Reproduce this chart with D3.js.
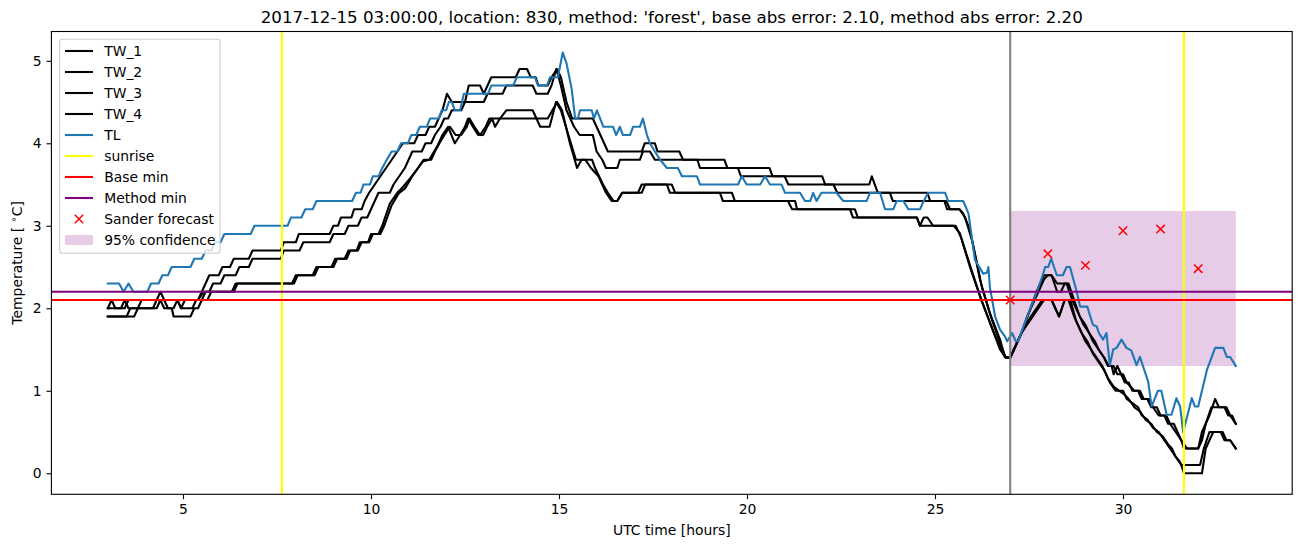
<!DOCTYPE html>
<html>
<head>
<meta charset="utf-8">
<script src="https://cdn.jsdelivr.net/npm/d3@7"></script>
<style>
  html, body { margin: 0; padding: 0; background: #fff; }
  svg { display: block; font-family: "DejaVu Sans", sans-serif; }
</style>
</head>
<body>
<svg id="chart" width="1302" height="547"></svg>
<script>
// ---- data (hour, temperature) ----
const TW_1 = [[3.0,2.0],[3.1,2.1],[3.2,2.0],[3.45,2.0],[3.55,2.1],[4.85,2.1],[4.95,2.0],[5.05,2.1],[5.4,2.1],[5.5,2.2],[5.6,2.3],[5.7,2.4],[5.95,2.4],[6.05,2.5],[6.25,2.5],[6.35,2.6],[6.75,2.6],[6.85,2.7],[7.6,2.7],[7.68,2.8],[8.0,2.8],[8.08,2.9],[8.9,2.9],[9.0,3.0],[9.12,3.0],[9.2,3.1],[9.48,3.1],[9.55,3.2],[9.75,3.2],[9.83,3.3],[9.95,3.4],[10.1,3.5],[10.25,3.6],[10.4,3.7],[10.55,3.8],[10.7,3.9],[10.85,4.0],[11.15,4.0],[11.25,4.1],[11.45,4.1],[11.55,4.2],[11.7,4.2],[11.8,4.3],[11.9,4.4],[12.02,4.6],[12.15,4.5],[12.5,4.5],[12.6,4.7],[12.9,4.7],[13.0,4.6],[13.1,4.7],[13.2,4.8],[13.85,4.8],[13.95,4.9],[14.15,4.9],[14.25,4.8],[14.38,4.8],[14.45,4.7],[14.7,4.7],[14.8,4.8],[14.95,4.9],[15.05,4.8],[15.2,4.5],[15.35,4.3],[15.9,4.3],[16.0,4.2],[16.1,4.1],[16.2,4.0],[16.3,3.9],[17.2,3.9],[17.28,4.0],[17.55,4.0],[17.62,3.9],[18.2,3.9],[18.3,3.8],[19.4,3.8],[19.48,3.7],[20.6,3.7],[20.68,3.6],[22.0,3.6],[22.08,3.5],[23.25,3.5],[23.32,3.6],[23.4,3.5],[23.48,3.4],[24.8,3.4],[24.87,3.3],[25.25,3.3],[25.32,3.2],[25.65,3.2],[25.75,3.15],[25.93,2.95],[26.2,2.34],[26.46,1.94],[26.73,1.62],[26.86,1.41],[27.0,1.4],[27.2,1.6],[27.35,1.75],[27.5,1.95],[27.7,2.2],[27.9,2.4],[28.1,2.4],[28.25,2.2],[28.35,2.2],[28.45,2.3],[28.55,2.3],[28.7,2.1],[28.85,1.9],[29.0,1.8],[29.1,1.7],[29.25,1.6],[29.35,1.5],[29.5,1.4],[29.6,1.3],[29.7,1.3],[29.75,1.2],[29.85,1.3],[29.95,1.2],[30.05,1.1],[30.15,1.1],[30.25,1.0],[30.4,1.0],[30.5,0.9],[30.65,0.9],[30.75,0.8],[30.9,0.8],[31.0,0.7],[31.15,0.7],[31.25,0.6],[31.4,0.5],[31.55,0.4],[31.7,0.3],[32.0,0.3],[32.1,0.4],[32.2,0.6],[32.3,0.7],[32.45,0.9],[32.55,0.8],[32.75,0.8],[32.85,0.7],[33.0,0.6]];

const TW_2 = [[3.0,2.0],[3.35,2.0],[3.45,2.1],[3.55,2.0],[3.8,2.0],[3.9,2.1],[5.4,2.1],[5.55,2.2],[5.7,2.2],[5.8,2.3],[6.0,2.3],[6.1,2.4],[6.4,2.4],[6.5,2.5],[6.75,2.5],[6.85,2.6],[7.6,2.6],[7.68,2.7],[8.1,2.7],[8.2,2.8],[8.9,2.8],[9.0,2.9],[9.3,2.9],[9.4,3.0],[9.65,3.0],[9.75,3.1],[9.9,3.1],[10.0,3.2],[10.1,3.3],[10.2,3.4],[10.5,3.4],[10.6,3.5],[10.75,3.6],[10.9,3.7],[11.0,3.8],[11.1,3.9],[11.35,3.9],[11.45,4.0],[11.6,4.0],[11.7,4.1],[11.85,4.2],[11.95,4.3],[12.05,4.3],[12.15,4.4],[12.4,4.4],[12.5,4.5],[13.0,4.5],[13.1,4.6],[13.5,4.6],[13.6,4.7],[14.3,4.7],[14.4,4.6],[14.7,4.6],[14.8,4.7],[14.93,4.9],[15.05,4.7],[15.2,4.4],[15.4,4.2],[15.55,4.1],[15.9,4.1],[16.0,3.9],[16.15,3.8],[16.25,3.7],[16.55,3.7],[16.62,3.8],[17.15,3.8],[17.23,3.9],[17.42,3.9],[17.55,3.8],[18.68,3.8],[18.75,3.7],[19.76,3.7],[19.84,3.6],[21.0,3.6],[21.1,3.5],[22.3,3.5],[22.4,3.4],[23.8,3.4],[23.88,3.3],[25.3,3.3],[25.4,3.2],[25.65,3.2],[25.8,3.1],[26.0,2.8],[26.25,2.25],[26.5,1.88],[26.75,1.55],[26.88,1.4],[27.0,1.4],[27.15,1.55],[27.3,1.7],[27.45,1.9],[27.6,2.05],[27.75,2.2],[27.9,2.35],[28.0,2.4],[28.1,2.4],[28.25,2.3],[28.5,2.3],[28.65,2.1],[28.8,1.95],[28.95,1.8],[29.1,1.7],[29.2,1.6],[29.35,1.5],[29.5,1.4],[29.62,1.3],[29.75,1.3],[29.85,1.2],[30.0,1.2],[30.1,1.1],[30.3,1.0],[30.45,1.0],[30.55,0.9],[30.7,0.9],[30.8,0.8],[30.95,0.7],[31.1,0.7],[31.2,0.6],[31.35,0.6],[31.45,0.5],[31.55,0.4],[31.62,0.3],[32.0,0.3],[32.1,0.5],[32.2,0.6],[32.35,0.8],[32.7,0.8],[32.8,0.7],[32.9,0.7],[33.0,0.6]];

const TW_3 = [[3.0,1.9],[3.5,1.9],[3.6,2.0],[4.2,2.0],[4.4,2.2],[4.6,2.0],[4.75,2.0],[4.85,2.1],[4.95,2.0],[5.25,2.0],[5.35,2.1],[5.5,2.1],[5.6,2.2],[6.3,2.2],[6.4,2.3],[7.9,2.3],[8.0,2.4],[8.45,2.4],[8.55,2.5],[8.95,2.5],[9.05,2.6],[9.3,2.6],[9.4,2.7],[9.62,2.7],[9.7,2.8],[9.92,2.8],[10.0,2.9],[10.2,2.9],[10.3,3.0],[10.5,3.27],[10.7,3.4],[10.85,3.47],[11.05,3.58],[11.22,3.68],[11.38,3.78],[11.55,3.8],[11.65,3.88],[11.78,3.98],[11.9,4.1],[12.05,4.2],[12.23,4.0],[12.37,4.1],[12.5,4.2],[12.58,4.3],[12.71,4.2],[12.85,4.1],[12.98,4.1],[13.09,4.2],[13.22,4.3],[13.3,4.2],[13.43,4.3],[13.6,4.4],[14.3,4.4],[14.4,4.3],[14.7,4.3],[14.95,4.5],[15.08,4.4],[15.29,4.0],[15.48,3.7],[15.6,3.8],[15.88,3.8],[15.96,3.7],[16.17,3.5],[16.3,3.4],[16.45,3.3],[16.55,3.3],[16.68,3.4],[17.1,3.4],[17.2,3.5],[17.87,3.5],[17.95,3.4],[19.28,3.4],[19.36,3.3],[21.09,3.3],[21.2,3.2],[22.74,3.2],[22.82,3.1],[24.52,3.1],[24.6,3.0],[24.7,3.1],[24.8,3.1],[24.95,3.0],[25.5,3.0],[25.66,2.91],[25.93,2.5],[26.2,2.14],[26.5,1.78],[26.73,1.5],[26.86,1.41],[27.0,1.4],[27.15,1.55],[27.3,1.7],[27.45,1.8],[27.6,1.9],[27.75,2.0],[27.9,2.1],[28.1,2.1],[28.3,1.9],[28.45,2.1],[28.55,2.1],[28.7,1.9],[28.85,1.75],[29.0,1.6],[29.15,1.5],[29.3,1.4],[29.45,1.3],[29.6,1.15],[29.75,1.05],[29.9,1.0],[30.05,0.95],[30.15,0.9],[30.3,0.8],[30.45,0.75],[30.6,0.65],[30.75,0.6],[30.9,0.5],[31.05,0.45],[31.2,0.35],[31.3,0.3],[31.4,0.2],[31.5,0.15],[31.55,0.1],[32.05,0.1],[32.15,0.3],[32.3,0.5],[32.65,0.5],[32.75,0.4],[32.85,0.4],[33.0,0.3]];

const TW_4 = [[3.0,1.9],[3.7,1.9],[3.8,2.0],[4.3,2.0],[4.4,2.1],[4.5,2.0],[4.7,2.0],[4.75,1.9],[5.2,1.9],[5.3,2.0],[5.4,2.0],[5.5,2.1],[5.65,2.1],[5.75,2.2],[6.35,2.2],[6.45,2.3],[7.95,2.3],[8.05,2.4],[8.5,2.4],[8.6,2.5],[9.0,2.5],[9.1,2.6],[9.35,2.6],[9.45,2.7],[9.65,2.7],[9.75,2.8],[9.95,2.8],[10.05,2.9],[10.25,2.9],[10.35,3.0],[10.55,3.25],[10.75,3.4],[10.9,3.45],[11.1,3.6],[11.25,3.7],[11.4,3.8],[11.6,3.8],[11.7,3.9],[11.82,4.0],[11.95,4.1],[12.1,4.2],[12.25,4.1],[12.4,4.1],[12.55,4.2],[12.62,4.3],[12.75,4.2],[12.9,4.1],[13.05,4.2],[13.15,4.3],[14.4,4.3],[14.5,4.2],[14.75,4.2],[14.92,4.5],[15.05,4.4],[15.25,4.1],[15.45,3.8],[15.7,3.8],[15.85,3.7],[16.05,3.6],[16.25,3.4],[16.4,3.3],[16.55,3.3],[16.68,3.4],[17.2,3.4],[17.29,3.5],[18.0,3.5],[18.09,3.4],[19.6,3.4],[19.68,3.3],[21.28,3.3],[21.33,3.2],[22.87,3.2],[22.95,3.1],[24.52,3.1],[24.6,3.0],[25.55,3.0],[25.7,2.85],[25.98,2.45],[26.25,2.08],[26.55,1.72],[26.78,1.48],[26.9,1.4],[27.0,1.4],[27.2,1.6],[27.35,1.75],[27.55,1.9],[27.7,2.0],[27.85,2.1],[28.1,2.1],[28.3,1.9],[28.45,2.1],[28.6,2.1],[28.75,1.85],[28.9,1.7],[29.05,1.6],[29.2,1.45],[29.35,1.35],[29.5,1.25],[29.65,1.1],[29.8,1.0],[30.0,1.0],[30.1,0.9],[30.25,0.85],[30.4,0.8],[30.5,0.7],[30.65,0.65],[30.8,0.55],[30.95,0.5],[31.1,0.4],[31.25,0.3],[31.4,0.2],[31.55,0.1],[31.62,0.0],[32.1,0.0],[32.2,0.3],[32.3,0.4],[32.4,0.5],[32.6,0.5],[32.7,0.4],[32.85,0.4],[33.0,0.3]];

const TL = [[3.0,2.3],[3.3,2.3],[3.42,2.2],[3.55,2.3],[3.68,2.2],[4.05,2.2],[4.15,2.3],[4.35,2.3],[4.45,2.4],[4.6,2.4],[4.7,2.5],[5.2,2.5],[5.3,2.6],[5.5,2.6],[5.6,2.7],[5.75,2.7],[5.85,2.8],[6.0,2.8],[6.1,2.9],[6.8,2.9],[6.9,3.0],[7.78,3.0],[7.87,3.1],[8.15,3.1],[8.25,3.2],[8.45,3.2],[8.55,3.3],[9.5,3.3],[9.6,3.4],[9.72,3.4],[9.8,3.5],[9.97,3.5],[10.05,3.6],[10.2,3.6],[10.3,3.7],[10.42,3.8],[10.55,3.9],[10.7,3.9],[10.8,4.0],[10.98,4.0],[11.07,4.1],[11.2,4.1],[11.3,4.2],[11.48,4.2],[11.57,4.3],[11.8,4.3],[11.88,4.4],[12.0,4.4],[12.07,4.5],[12.15,4.5],[12.23,4.4],[12.37,4.4],[12.47,4.6],[13.11,4.6],[13.2,4.7],[13.78,4.7],[13.88,4.8],[14.36,4.8],[14.44,4.7],[14.68,4.7],[14.76,4.8],[14.97,4.8],[15.1,5.1],[15.2,4.97],[15.34,4.65],[15.43,4.3],[15.5,4.3],[15.56,4.4],[15.87,4.4],[15.93,4.3],[16.01,4.4],[16.18,4.2],[16.44,4.2],[16.52,4.1],[16.62,4.2],[16.7,4.1],[16.89,4.1],[16.97,4.2],[17.15,4.2],[17.23,4.3],[17.34,4.1],[17.42,4.0],[17.55,3.9],[17.69,3.8],[17.87,3.7],[18.16,3.7],[18.27,3.6],[18.67,3.6],[18.75,3.5],[19.76,3.5],[19.86,3.6],[19.99,3.5],[20.35,3.5],[20.48,3.6],[20.61,3.5],[20.92,3.5],[21.01,3.4],[21.41,3.4],[21.54,3.3],[21.68,3.3],[21.76,3.4],[21.85,3.3],[21.98,3.4],[22.38,3.4],[22.56,3.3],[23.18,3.3],[23.27,3.4],[23.54,3.4],[23.67,3.2],[23.89,3.2],[23.98,3.3],[24.16,3.3],[24.29,3.2],[24.6,3.2],[24.7,3.3],[24.82,3.4],[25.27,3.4],[25.35,3.3],[25.75,3.3],[25.89,3.15],[26.06,2.59],[26.28,2.42],[26.38,2.43],[26.42,2.5],[26.46,2.25],[26.6,1.9],[26.73,1.74],[26.86,1.66],[26.92,1.6],[27.05,1.7],[27.15,1.6],[27.21,1.6],[27.45,1.9],[27.71,2.2],[27.85,2.38],[27.93,2.5],[28.01,2.5],[28.09,2.6],[28.24,2.4],[28.4,2.4],[28.5,2.5],[28.59,2.5],[28.77,2.2],[28.86,2.02],[29.05,2.02],[29.2,1.8],[29.3,1.78],[29.36,1.7],[29.47,1.62],[29.56,1.7],[29.65,1.31],[29.74,1.5],[29.83,1.52],[29.96,1.62],[30.09,1.52],[30.22,1.49],[30.36,1.31],[30.45,1.41],[30.67,1.11],[30.76,0.81],[30.93,1.0],[31.02,1.0],[31.16,0.71],[31.29,0.71],[31.42,0.91],[31.52,0.81],[31.6,0.5],[31.83,0.91],[31.91,0.81],[32.0,0.81],[32.23,1.25],[32.45,1.52],[32.67,1.52],[32.76,1.41],[32.85,1.41],[33.0,1.3]];

const SUNRISE = [7.63, 31.62];
const NOW_HOUR = 27.0;
const BASE_MIN = 2.1;
const METHOD_MIN = 2.2;
const SANDER_X = [27, 28, 29, 30, 31, 32];
const SANDER_Y = [2.1, 2.66, 2.52, 2.94, 2.96, 2.48];
const CONF_X = [27, 33];
const CONF_LO = [1.3, 1.3];
const CONF_HI = [3.18, 3.18];
const X_TICKS = [5, 10, 15, 20, 25, 30];
const Y_TICKS = [0, 1, 2, 3, 4, 5];
const LEGEND_LABELS = ["TW_1","TW_2","TW_3","TW_4","TL","sunrise","Base min","Method min","Sander forecast","95% confidence"];
const TITLE = "2017-12-15 03:00:00, location: 830, method: 'forest', base abs error: 2.10, method abs error: 2.20";

// ---- layout ----
const L = 51.4, R = 1292.2, T = 31.5, B = 494.3;
const FS = 13.9;
const svg = d3.select("#chart");
const x = d3.scaleLinear().domain([1.5, 34.5]).range([L, R]);
const y = d3.scaleLinear().domain([-0.255, 5.355]).range([B, T]);

svg.append("defs").append("clipPath").attr("id", "clip")
  .append("rect").attr("x", L).attr("y", T).attr("width", R - L).attr("height", B - T);

const plot = svg.append("g").attr("clip-path", "url(#clip)");

// confidence band
const band = CONF_X.map((d, i) => ({x: d, lo: CONF_LO[i], hi: CONF_HI[i]}));
plot.append("path").datum(band)
  .attr("d", d3.area().x(d => x(d.x)).y0(d => y(d.lo)).y1(d => y(d.hi)))
  .attr("fill", "#800080").attr("fill-opacity", 0.2);

const line = d3.line().x(d => x(d[0])).y(d => y(d[1]));
[TW_1, TW_2, TW_3, TW_4].forEach(s => {
  plot.append("path").datum(s).attr("d", line)
    .attr("fill", "none").attr("stroke", "#000").attr("stroke-width", 2.1)
    .attr("stroke-linejoin", "round").attr("stroke-linecap", "square");
});
plot.append("path").datum(TL).attr("d", line)
  .attr("fill", "none").attr("stroke", "#1f77b4").attr("stroke-width", 2.1)
  .attr("stroke-linejoin", "round").attr("stroke-linecap", "square");

// gray "now" line
plot.append("line").attr("x1", x(NOW_HOUR)).attr("x2", x(NOW_HOUR))
  .attr("y1", T).attr("y2", B).attr("stroke", "#808080").attr("stroke-width", 2.1);

// sunrise
SUNRISE.forEach(s => {
  plot.append("line").attr("x1", x(s)).attr("x2", x(s)).attr("y1", T).attr("y2", B)
    .attr("stroke", "#ffff00").attr("stroke-width", 2.1);
});
// base / method min
plot.append("line").attr("x1", L).attr("x2", R).attr("y1", y(BASE_MIN)).attr("y2", y(BASE_MIN))
  .attr("stroke", "#ff0000").attr("stroke-width", 2.1);
plot.append("line").attr("x1", L).attr("x2", R).attr("y1", y(METHOD_MIN)).attr("y2", y(METHOD_MIN))
  .attr("stroke", "#800080").attr("stroke-width", 2.1);

// sander markers
function xMarker(g, cx, cy) {
  const h = 4.2;
  g.append("path").attr("d", `M${cx-h},${cy-h}L${cx+h},${cy+h}M${cx-h},${cy+h}L${cx+h},${cy-h}`)
    .attr("stroke", "#ff0000").attr("stroke-width", 1.5).attr("fill", "none");
}
SANDER_X.forEach((d, i) => xMarker(plot, x(d), y(SANDER_Y[i])));

// axes
const xAxis = svg.append("g").attr("transform", `translate(0,${B})`)
  .call(d3.axisBottom(x).tickValues(X_TICKS).tickFormat(d3.format("d")).tickSize(4.9).tickPadding(4.9).tickSizeOuter(0));
const yAxis = svg.append("g").attr("transform", `translate(${L},0)`)
  .call(d3.axisLeft(y).tickValues(Y_TICKS).tickFormat(d3.format("d")).tickSize(4.9).tickPadding(4.9).tickSizeOuter(0));
[xAxis, yAxis].forEach(a => {
  a.select(".domain").remove();
  a.selectAll("line").attr("stroke", "#000").attr("stroke-width", 1.1);
  a.selectAll("text").attr("font-size", FS).attr("fill", "#000").attr("font-family", "DejaVu Sans");
});

// frame
svg.append("rect").attr("x", L).attr("y", T).attr("width", R - L).attr("height", B - T)
  .attr("fill", "none").attr("stroke", "#000").attr("stroke-width", 1.1);

// title & labels
svg.append("text").attr("x", (L + R) / 2).attr("y", 23.2).attr("text-anchor", "middle")
  .attr("font-size", 16.7).attr("fill", "#000").text(TITLE);
svg.append("text").attr("x", (L + R) / 2).attr("y", 535).attr("text-anchor", "middle")
  .attr("font-size", FS).attr("fill", "#000").text("UTC time [hours]");
const yl = svg.append("text").attr("transform", `translate(22,${(T + B) / 2}) rotate(-90)`)
  .attr("text-anchor", "middle").attr("font-size", FS).attr("fill", "#000");
yl.append("tspan").text("Temperature [ ");
yl.append("tspan").attr("font-size", FS * 0.7).attr("dy", -5).text("\u2218");
yl.append("tspan").attr("dy", 5).text("C]");

// legend
const lg = svg.append("g");
lg.append("rect").attr("x", 59.7).attr("y", 39.3).attr("width", 160.3).attr("height", 214)
  .attr("rx", 2.8).attr("fill", "#fff").attr("fill-opacity", 0.8)
  .attr("stroke", "#cccccc").attr("stroke-width", 1.1);
const legendColors = ["#000","#000","#000","#000","#1f77b4","#ffff00","#ff0000","#800080"];
LEGEND_LABELS.forEach((lab, i) => {
  const cy = 51 + i * 21;
  if (i < 8) {
    lg.append("line").attr("x1", 65).attr("x2", 93).attr("y1", cy).attr("y2", cy)
      .attr("stroke", legendColors[i]).attr("stroke-width", 2.1);
  } else if (i === 8) {
    xMarker(lg, 79, cy);
  } else {
    lg.append("rect").attr("x", 65).attr("y", cy - 5).attr("width", 28).attr("height", 10)
      .attr("fill", "#800080").attr("fill-opacity", 0.2);
  }
  lg.append("text").attr("x", 104.2).attr("y", cy + 5).attr("font-size", FS).attr("fill", "#000").text(lab);
});
</script>
</body>
</html>
